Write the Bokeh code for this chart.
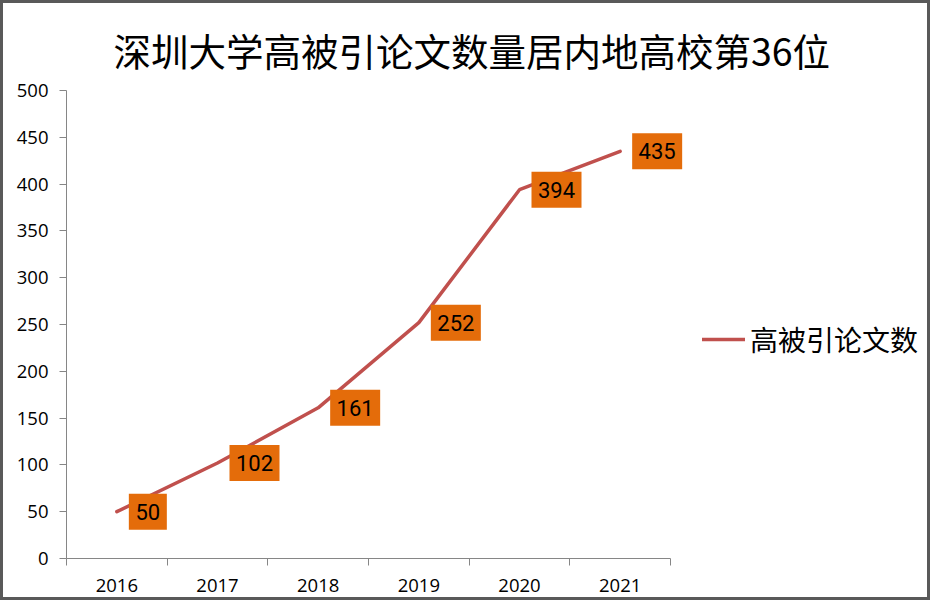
from bokeh.plotting import figure
from bokeh.models import Range1d, FixedTicker, Legend, LegendItem, ColumnDataSource
from bokeh.embed import file_html
from bokeh.resources import INLINE
from bokeh.core.properties import value

# ---- data ----
years = ["2016", "2017", "2018", "2019", "2020", "2021"]
counts = [50, 102, 161, 252, 394, 435]
y_ticks = [0, 50, 100, 150, 200, 250, 300, 350, 400, 450, 500]
title_text = "深圳大学高被引论文数量居内地高校第36位"
series_name = "高被引论文数"

# ---- layout ----
W, H = 924, 594
FL, AXR, FT, FB = 63, 667, 87, 555   # axis extent in px
FR = 921                              # frame right (room for labels / legend)
FW, FH = FR - FL, FB - FT
PX_PER_UNIT = (AXR - FL) / len(years)
XMAX = FW / PX_PER_UNIT

xc = [i + 0.5 for i in range(len(years))]
labels = [str(c) for c in counts]
box_w = [14 + 12 * len(s) for s in labels]
box_x = [x + (12 + w / 2) / PX_PER_UNIT for x, w in zip(xc, box_w)]

src = ColumnDataSource(dict(x=xc, y=counts, bx=box_x, bw=box_w, lab=labels))

p = figure(frame_width=FW, frame_height=FH, output_backend="svg", toolbar_location=None,
           x_range=Range1d(0, XMAX), y_range=Range1d(0, 500),
           min_border_left=FL, min_border_right=W - FR,
           min_border_top=FT, min_border_bottom=H - FB)
p.styles = {"border": "3px solid #595959", "box-sizing": "content-box"}
p.background_fill_color = "white"
p.border_fill_color = "white"
p.outline_line_color = None
p.xgrid.visible = False
p.ygrid.visible = False

p.title.text = title_text
p.title.align = "left"
p.title.offset = 47
p.title.vertical_align = "top"
p.title.text_font = "Noto Sans CJK SC"
p.title.text_font_size = "37.5px"
p.title.text_font_style = "normal"
p.title.text_color = "#000000"
p.title.standoff = 24

AX = "#868686"
TICK_FONT = "Open Sans"

xa = p.xaxis[0]
xa.bounds = (0, len(years))
xa.ticker = FixedTicker(ticks=xc, minor_ticks=list(range(len(years) + 1)))
xa.major_label_overrides = {x: y for x, y in zip(xc, years)}
xa.major_tick_line_color = None
xa.major_tick_out = 0
xa.major_tick_in = 0
xa.minor_tick_line_color = AX
xa.minor_tick_out = 7
xa.minor_tick_in = 0
xa.axis_line_color = AX
xa.major_label_standoff = 13
xa.major_label_text_font = TICK_FONT
xa.major_label_text_font_size = "18.5px"
xa.major_label_text_color = "#000000"

ya = p.yaxis[0]
ya.ticker = FixedTicker(ticks=y_ticks, minor_ticks=[])
ya.major_tick_line_color = AX
ya.major_tick_out = 7
ya.major_tick_in = 0
ya.minor_tick_line_color = None
ya.axis_line_color = AX
ya.major_label_standoff = 11
ya.major_label_text_font = TICK_FONT
ya.major_label_text_font_size = "18.5px"
ya.major_label_text_color = "#000000"

line = p.line("x", "y", source=src, line_color="#C0504D", line_width=3.5, line_cap="round")

p.rect(x="bx", y="y", width="bw", height=36, width_units="screen", height_units="screen",
       source=src, fill_color="#E46C0A", line_color=None)
p.text(x="bx", y="y", text="lab", source=src, text_align="center", text_baseline="middle",
       text_font=value("Roboto"), text_font_size="22px", text_color="#000000")

legend = Legend(items=[LegendItem(label=series_name, renderers=[line])],
                location=(699 - FL, 199), orientation="vertical",
                glyph_width=43, glyph_height=20, label_standoff=5,
                margin=0, padding=0, border_line_color=None,
                background_fill_alpha=0,
                label_text_font="Noto Sans CJK SC", label_text_font_size="28px",
                label_text_color="#000000")
p.add_layout(legend)

open("out.html", "w").write(file_html(p, INLINE))
